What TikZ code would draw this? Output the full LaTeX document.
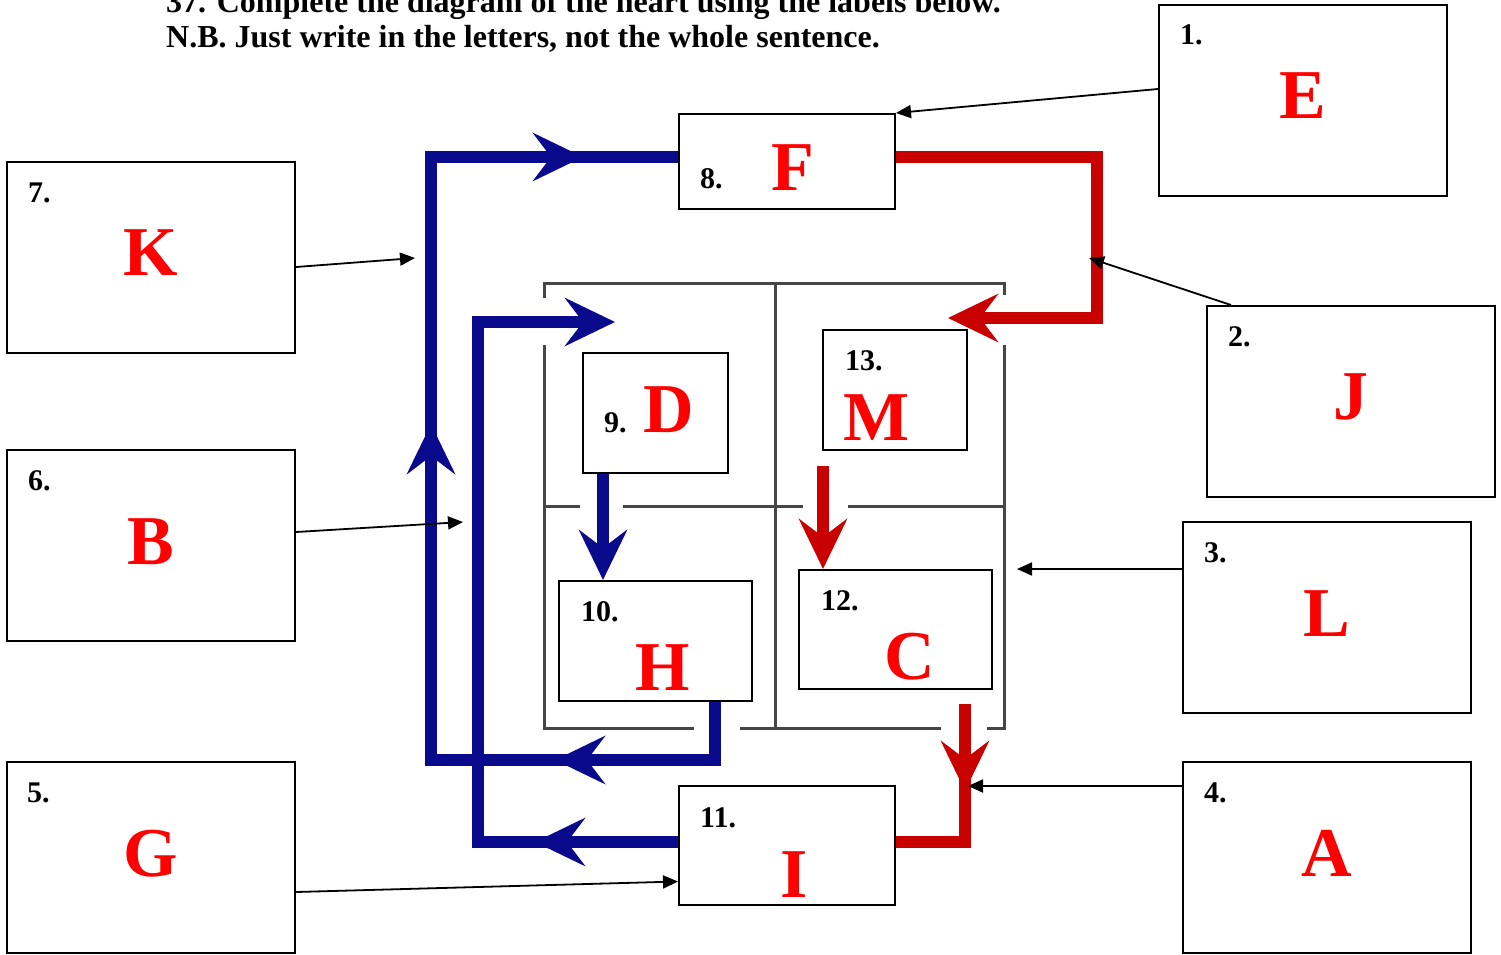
\documentclass[tikz,border=0pt]{standalone}
\usepackage{fontspec}
\setmainfont{Liberation Serif}
\usetikzlibrary{calc, arrows.meta, decorations.markings}

\definecolor{heartblue}{RGB}{10,10,140}
\definecolor{heartred}{RGB}{200,0,0}
\definecolor{letterred}{RGB}{255,0,0}
\definecolor{wallgray}{RGB}{70,70,70}

\tikzset{
  bigtip/.tip={Stealth[length=50pt,width=48pt,inset=18pt]},
  wall/.style={draw=wallgray, line width=3pt},
  blood/.style={line width=12pt},
  box/.style={draw=black, line width=2pt, fill=white, inner sep=0pt},
  title/.style={anchor=base west, inner sep=0pt, font=\fontsize{32}{36}\selectfont\bfseries},
  numlab/.style={anchor=base west, inner sep=0pt, font=\fontsize{30}{30}\selectfont\bfseries},
  letter/.style={anchor=base, inner sep=0pt, text=letterred, font=\fontsize{70}{70}\selectfont\bfseries},
  pointer/.style={draw=black, line width=1.8pt, -{Triangle[length=15pt,width=13pt]}}
}

\begin{document}
\begin{tikzpicture}[x=1pt, y=-1pt]
        \useasboundingbox (0,0) rectangle (1501,955);

        % heading
        \node[title] (head1) at (166,13) {37. Complete the diagram of the heart using the labels below.};
        \node[title] (head2) at (166,48) {N.B. Just write in the letters, not the whole sentence.};

        % walls of the heart
        \draw[wall] (544,298) -- (544,283) -- (1004,283) -- (1004,295);
        \draw[wall] (544,345) -- (544,728) -- (694,728);
        \draw[wall] (740,728) -- (941,728);
        \draw[wall] (987,728) -- (1004,728) -- (1004,345);
        \draw[wall] (775,283) -- (775,728);
        \draw[wall] (544,506) -- (580,506);
        \draw[wall] (623,506) -- (803,506);
        \draw[wall] (848,506) -- (1004,506);

        % boxes
        \node[box, minimum width=288, minimum height=191] (box1) at (1303,100.5) {};
        \node[box, minimum width=288, minimum height=191] (box2) at (1351,401.5) {};
        \node[box, minimum width=288, minimum height=191] (box3) at (1327,617.5) {};
        \node[box, minimum width=288, minimum height=191] (box4) at (1327,857.5) {};
        \node[box, minimum width=288, minimum height=191] (box5) at (151,857.5) {};
        \node[box, minimum width=288, minimum height=191] (box6) at (151,545.5) {};
        \node[box, minimum width=288, minimum height=191] (box7) at (151,257.5) {};
        \node[box, minimum width=216, minimum height=95] (boxF) at (787,161.5) {};
        \node[box, minimum width=145, minimum height=120] (boxD) at (655.5,413) {};
        \node[box, minimum width=144, minimum height=120] (boxM) at (895,390) {};
        \node[box, minimum width=193, minimum height=120] (boxH) at (655.5,641) {};
        \node[box, minimum width=193, minimum height=119] (boxC) at (895.5,629.5) {};
        \node[box, minimum width=216, minimum height=119] (boxI) at (787,845.5) {};

        % corners of the blood paths
        \coordinate (lo1) at (715,760);
        \coordinate (lo2) at (431,760);
        \coordinate (lo3) at (431,157);
        \coordinate (li1) at (478,842);
        \coordinate (li2) at (478,322);
        \coordinate (li3) at (615,322);
        \coordinate (ro1) at (1097,157);
        \coordinate (ro2) at (1097,318);
        \coordinate (ro3) at (948,318);
        \coordinate (rl1) at (965,842);
        \coordinate (dh) at (603,500);
        \coordinate (mc) at (823,500);

        % blue side
        \draw[blood, color=heartblue, postaction={decorate}, decoration={markings,
              mark=at position 218pt with {\arrow{bigtip}},
              mark=at position 678pt with {\arrow{bigtip}},
              mark=at position 1097pt with {\arrow{bigtip}}}]
              (boxH.south -| lo1) -- (lo1) -- (lo2) -- (lo3) -- (lo3 -| boxF.west);
        \draw[blood, color=heartblue, -bigtip, postaction={decorate}, decoration={markings,
              mark=at position 143pt with {\arrow{bigtip}}}]
              (boxI.west |- li1) -- (li1) -- (li2) -- (li3);
        \draw[blood, color=heartblue, -bigtip] (boxD.south -| dh) -- (boxH.north -| dh);

        % red side
        \draw[blood, color=heartred, -bigtip] (boxF.east |- ro1) -- (ro1) -- (ro2) -- (ro3);
        \draw[blood, color=heartred, -bigtip] ($(boxM.south -| mc)+(0,15)$) -- (boxC.north -| mc);
        \draw[blood, color=heartred, postaction={decorate}, decoration={markings,
              mark=at position 87pt with {\arrow{bigtip}}}]
              ($(boxC.south -| rl1)+(0,14)$) -- (rl1) -- (rl1 -| boxI.east);

        % numbers
        \node[numlab] at (1180,45) {1.};
        \node[numlab] at (1228,346) {2.};
        \node[numlab] at (1204,562) {3.};
        \node[numlab] at (1204,802) {4.};
        \node[numlab] at (27,802) {5.};
        \node[numlab] at (28,490) {6.};
        \node[numlab] at (28,202) {7.};
        \node[numlab] at (700,188) {8.};
        \node[numlab] at (604,432) {9.};
        \node[numlab] at (581,621) {10.};
        \node[numlab] at (700,827) {11.};
        \node[numlab] at (821,610) {12.};
        \node[numlab] at (845,370) {13.};

        % letters
        \node[letter] at (1303,118) {E};
        \node[letter] at (1351,419) {J};
        \node[letter] at (1327,636) {L};
        \node[letter] at (1327,876) {A};
        \node[letter] at (151,876) {G};
        \node[letter] at (151,564) {B};
        \node[letter] at (151,275) {K};
        \node[letter] at (793,190) {F};
        \node[letter] at (669,432) {D};
        \node[letter] at (877,440) {M};
        \node[letter] at (663,690) {H};
        \node[letter] at (910,679) {C};
        \node[letter] at (794,897) {I};

        % pointers
        \coordinate (p2) at (1089,258);
        \coordinate (p3) at (1017,569);
        \coordinate (p4) at (968,786);
        \coordinate (p6) at (463,522);
        \coordinate (p7) at (415,258);
        \draw[pointer] ($(box1.west)+(0,-11.5)$) -- (boxF.north east);
        \draw[pointer] ($(box2.north west)+(25,0)$) -- (p2);
        \draw[pointer] (box3.west |- p3) -- (p3);
        \draw[pointer] (box4.west |- p4) -- (p4);
        \draw[pointer] ($(box5.east)+(0,34.5)$) -- ($(boxI.west)+(0,36)$);
        \draw[pointer] ($(box6.east)+(0,-13.5)$) -- (p6);
        \draw[pointer] ($(box7.east)+(0,9.5)$) -- (p7);
    \end{tikzpicture}
\end{document}
